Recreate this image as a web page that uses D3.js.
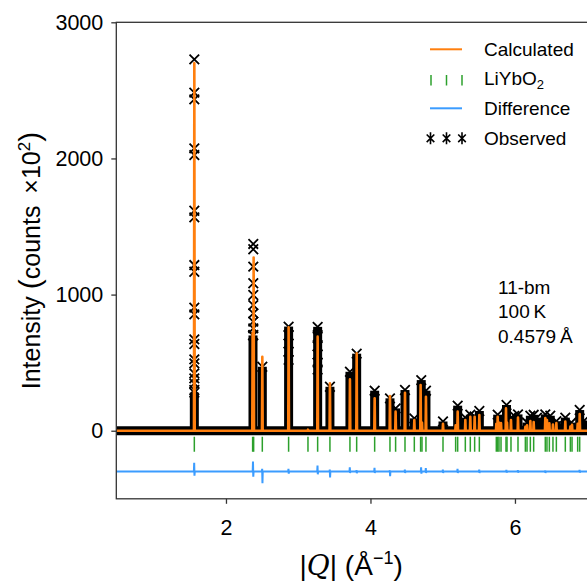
<!DOCTYPE html>
<html>
<head>
<meta charset="utf-8">
<script src="https://cdn.jsdelivr.net/npm/d3@7"></script>
<style>
  html, body { margin: 0; padding: 0; background: #fff; }
  svg { display: block; font-family: "Liberation Sans", Arial, sans-serif; }
</style>
</head>
<body>
<div id="chart"></div>
<script>
// ---- data ----
// LiYbO2 reflection positions, |Q| (1/Å)
const reflections = [1.562, 2.369, 2.383, 2.503, 2.867, 3.135, 3.269, 3.439, 3.716, 3.809,
  4.058, 4.270, 4.348, 4.478, 4.607, 4.694, 4.713, 4.768, 5.004, 5.179, 5.207, 5.313,
  5.382, 5.442, 5.507, 5.742, 5.761, 5.779, 5.807, 5.876, 5.890, 5.945, 6.042, 6.144,
  6.167, 6.213, 6.259, 6.420, 6.443, 6.476, 6.526, 6.573, 6.697, 6.767, 6.790, 6.868, 6.896];

// calculated peak maxima [Q, intensity]
const calcPeaks = [[1.562, 2700], [2.369, 718], [2.383, 1272], [2.503, 543], [2.867, 760],
  [3.135, 8], [3.269, 691], [3.439, 348], [3.716, 377], [3.809, 568], [4.058, 238],
  [4.270, 255], [4.348, 140], [4.478, 279], [4.607, 79], [4.694, 336], [4.713, 60],
  [4.768, 250], [5.004, 50], [5.179, 40], [5.207, 140], [5.313, 79], [5.382, 103],
  [5.442, 103], [5.507, 115], [5.742, 50], [5.761, 103], [5.779, 60], [5.807, 57],
  [5.876, 164], [5.890, 60], [5.945, 79], [6.042, 96], [6.144, 29], [6.167, 40],
  [6.213, 71], [6.259, 64], [6.420, 93], [6.443, 79], [6.476, 55], [6.526, 45],
  [6.573, 57], [6.697, 68], [6.767, 30], [6.790, 44], [6.868, 50], [6.896, 123]];

// observed: dense columns of points [Q, top intensity]
const obsColumns = [[1.562, 280], [2.374, 700], [2.503, 470], [2.867, 765], [3.269, 763],
  [3.439, 323], [3.716, 433], [3.809, 566], [4.058, 294], [4.270, 238], [4.348, 164],
  [4.478, 299], [4.607, 91], [4.703, 372], [4.768, 294], [5.004, 68], [5.207, 184],
  [5.313, 96], [5.382, 118], [5.442, 105], [5.507, 145], [5.761, 118], [5.807, 80],
  [5.883, 189], [5.945, 95], [5.990, 109], [6.042, 120], [6.167, 60], [6.213, 110],
  [6.259, 117], [6.305, 96], [6.420, 120], [6.489, 110], [6.573, 70], [6.697, 96],
  [6.780, 60], [6.896, 152], [6.960, 75]];

// observed: separate points on the flanks of the strongest peaks
const obsMarkers = [[1.562, 2728], [1.562, 2483], [1.562, 2434], [1.562, 2074], [1.562, 2025],
  [1.562, 1616], [1.562, 1567], [1.562, 1217], [1.562, 1168], [1.562, 904], [1.562, 855],
  [1.562, 671], [1.562, 637], [1.562, 524], [1.562, 495], [1.562, 421], [1.562, 385],
  [1.562, 348], [1.562, 299],
  [2.378, 1372], [2.378, 1333], [2.378, 1205], [2.378, 1083], [2.378, 997], [2.378, 923],
  [2.378, 862], [2.378, 801], [2.378, 752], [2.378, 703],
  [2.867, 700], [2.867, 640], [2.867, 580], [2.867, 520],
  [3.269, 690], [3.269, 620], [3.269, 560], [3.269, 500], [3.269, 450]];

// difference spikes [Q, up, down]
const diffSpikes = [[1.562, 64, -30], [2.376, 73, -37], [2.503, 20, -86], [2.867, 20, -15],
  [3.269, 44, -20], [3.439, 15, -44], [3.716, 31, -10], [3.809, 10, -12], [4.058, 27, -10],
  [4.270, 10, -34], [4.478, 15, -10], [4.703, 32, -15], [4.768, 25, -10], [5.004, 15, -10],
  [5.207, 20, -10], [5.507, 15, -10], [5.883, 12, -8], [6.042, 10, -8], [6.420, 8, -10],
  [6.896, 12, -8]];

const diffOffset = -300;
const tickBand = [-45, -155];
const background = 0;
const xTicks = [2, 4, 6];
const yTicks = [0, 1000, 2000, 3000];
const annotation = ["11-bm", "100\u2009K", "0.4579\u2009Å"];

// ---- layout ----
const W = 587, H = 585;
const L = 116.3, R = 588, T = 22.3, B = 498.8;
const C = { calc: "#ff7f0e", refl: "#2ca02c", diff: "#3b9cff", obs: "#000", axis: "#333" };

const x = d3.scaleLinear().domain([0.482, 7.011]).range([L, R]);
const y = d3.scaleLinear().domain([-500, 3000]).range([B, T]);

const svg = d3.select("#chart").append("svg").attr("width", W).attr("height", H);

svg.append("clipPath").attr("id", "clip")
  .append("rect").attr("x", L).attr("y", T).attr("width", R - L).attr("height", B - T);

const plot = svg.append("g").attr("clip-path", "url(#clip)");
const line = d3.line().x(d => x(d[0])).y(d => y(d[1]));
const xMark = "M-4.8,-4.8L4.8,4.8M-4.8,4.8L4.8,-4.8";

// observed background band (dense markers)
plot.append("path")
  .datum([[x.domain()[0], background], [x.domain()[1], background]])
  .attr("d", line).attr("fill", "none").attr("stroke", C.obs).attr("stroke-width", 9);

// observed columns
plot.selectAll("rect.col").data(obsColumns).join("rect")
  .attr("class", "col")
  .attr("x", d => x(d[0]) - 4.5).attr("width", 9)
  .attr("y", d => y(d[1]))
  .attr("height", d => y(background) - y(d[1]))
  .attr("fill", C.obs);

// observed markers (column tops + flank points)
plot.selectAll("path.obs").data(obsColumns.concat(obsMarkers)).join("path")
  .attr("class", "obs")
  .attr("transform", d => `translate(${x(d[0])},${y(d[1])})`)
  .attr("d", xMark).attr("fill", "none").attr("stroke", C.obs).attr("stroke-width", 1.8);

// calculated profile
const calcPts = [[x.domain()[0], background]];
calcPeaks.forEach(p => {
  calcPts.push([p[0] - 0.005, background], [p[0], p[1]], [p[0] + 0.005, background]);
});
calcPts.push([x.domain()[1], background]);
calcPts.sort((a, b) => a[0] - b[0]);
plot.append("path").datum(calcPts).attr("d", line)
  .attr("fill", "none").attr("stroke", C.calc).attr("stroke-width", 2.6)
  .attr("stroke-linejoin", "round");

// reflection ticks
plot.selectAll("line.refl").data(reflections).join("line")
  .attr("class", "refl")
  .attr("x1", d => x(d)).attr("x2", d => x(d))
  .attr("y1", y(tickBand[0])).attr("y2", y(tickBand[1]))
  .attr("stroke", C.refl).attr("stroke-width", 1.5);

// difference curve
const diffPts = [[x.domain()[0], diffOffset]];
diffSpikes.forEach(s => {
  diffPts.push([s[0] - 0.006, diffOffset], [s[0] - 0.002, diffOffset + s[1]],
    [s[0] + 0.002, diffOffset + s[2]], [s[0] + 0.006, diffOffset]);
});
diffPts.push([x.domain()[1], diffOffset]);
diffPts.sort((a, b) => a[0] - b[0]);
plot.append("path").datum(diffPts).attr("d", line)
  .attr("fill", "none").attr("stroke", C.diff).attr("stroke-width", 2);

// ---- axes ----
svg.append("rect").attr("x", L).attr("y", T).attr("width", R - L).attr("height", B - T)
  .attr("fill", "none").attr("stroke", C.axis).attr("stroke-width", 1.3);

const xAxis = svg.append("g").attr("transform", `translate(0,${B})`)
  .call(d3.axisBottom(x).tickValues(xTicks).tickSize(5).tickPadding(16).tickFormat(d3.format("d")));
const yAxis = svg.append("g").attr("transform", `translate(${L},0)`)
  .call(d3.axisLeft(y).tickValues(yTicks).tickSize(5).tickPadding(8).tickFormat(d3.format("d")));
[xAxis, yAxis].forEach(a => {
  a.select(".domain").remove();
  a.selectAll(".tick line").attr("stroke", C.axis).attr("stroke-width", 1.3);
  a.selectAll(".tick text").attr("fill", "#000").attr("font-size", 21.5)
    .attr("font-family", "Liberation Sans, Arial, sans-serif");
});

// axis titles
const xt = svg.append("text").attr("x", (L + R) / 2 - 1).attr("y", 575)
  .attr("text-anchor", "middle").attr("font-size", 28).attr("fill", "#000");
xt.append("tspan").text("|");
xt.append("tspan").attr("font-style", "italic").attr("font-family", "DejaVu Serif, serif").text("Q");
xt.append("tspan").text("| (Å");
xt.append("tspan").attr("font-size", 18).attr("dy", -11).text("−1");
xt.append("tspan").attr("dy", 11).text(")");

const yt = svg.append("text").attr("transform", `translate(40,${(T + B) / 2}) rotate(-90)`)
  .attr("text-anchor", "middle").attr("font-size", 25).attr("fill", "#000");
yt.append("tspan").text("Intensity ");
yt.append("tspan").attr("font-size", 30).text("(");
yt.append("tspan").text("counts \u2009×10");
yt.append("tspan").attr("font-size", 17).attr("dy", -10).text("2");
yt.append("tspan").attr("font-size", 30).attr("dy", 10).text(")");

// ---- legend ----
const lg = svg.append("g").attr("font-size", 19).attr("fill", "#000");
const lx0 = 430, lx1 = 462, ltx = 484;
lg.append("line").attr("x1", lx0).attr("x2", lx1).attr("y1", 49.3).attr("y2", 49.3)
  .attr("stroke", C.calc).attr("stroke-width", 2);
lg.append("text").attr("x", ltx).attr("y", 56).text("Calculated");

[431, 446.5, 462].forEach(px => lg.append("line").attr("x1", px).attr("x2", px)
  .attr("y1", 75).attr("y2", 85.5).attr("stroke", C.refl).attr("stroke-width", 1.5));
const lt2 = lg.append("text").attr("x", ltx).attr("y", 85).text("LiYbO");
lt2.append("tspan").attr("font-size", 13).attr("dy", 4).text("2");

lg.append("line").attr("x1", lx0).attr("x2", lx1).attr("y1", 108.3).attr("y2", 108.3)
  .attr("stroke", C.diff).attr("stroke-width", 2);
lg.append("text").attr("x", ltx).attr("y", 115).text("Difference");

[430.5, 446.5, 462].forEach(px => lg.append("path")
  .attr("transform", `translate(${px},138.3)`)
  .attr("d", "M-3.8,-3.8L3.8,3.8M-3.8,3.8L3.8,-3.8M0,-6L0,6")
  .attr("fill", "none").attr("stroke", C.obs).attr("stroke-width", 1.6));
lg.append("text").attr("x", ltx).attr("y", 145).text("Observed");

// ---- annotation ----
svg.append("g").attr("font-size", 19).attr("fill", "#000")
  .selectAll("text").data(annotation).join("text")
  .attr("x", 498).attr("y", (d, i) => 293.5 + i * 24.5).text(d => d);
</script>
</body>
</html>
